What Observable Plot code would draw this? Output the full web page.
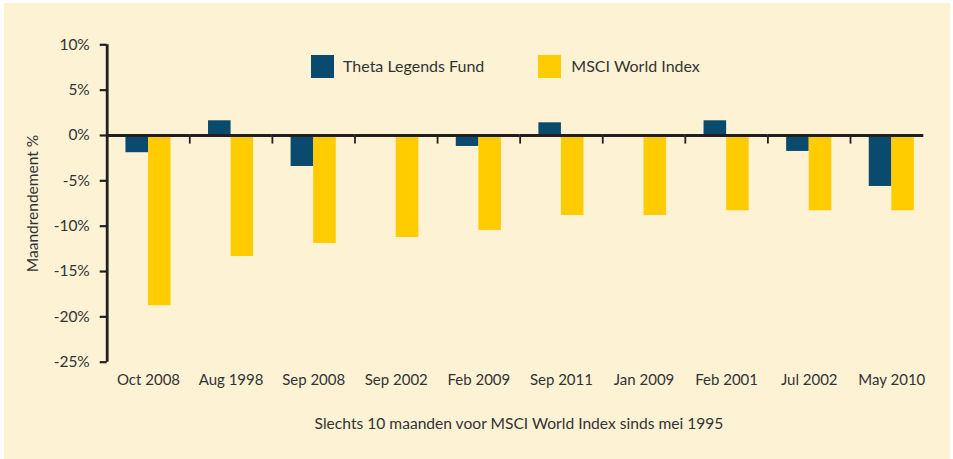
<!DOCTYPE html>
<html>
<head>
<meta charset="utf-8">
<script src="https://cdn.jsdelivr.net/npm/d3@7"></script>
<script src="https://cdn.jsdelivr.net/npm/@observablehq/plot@0.6"></script>
<style>
  html, body { margin: 0; padding: 0; background: #ffffff; }
  body { width: 953px; height: 459px; overflow: hidden; position: relative; font-family: Lato, "Open Sans", sans-serif; color: #333333; }
  #panel { position: absolute; left: 4px; top: 3px; width: 946px; height: 456px; background: #FEF2D4; }
  #chart { position: absolute; left: 0; top: 0; }
  .lg-sw { position: absolute; top: 52px; width: 23px; height: 23px; }
  .lg-tx { position: absolute; top: 52px; height: 23px; line-height: 23px; font-size: 16px; white-space: nowrap; margin-top: -1px; }
  #caption { position: absolute; top: 412px; left: 515px; transform: translateX(-50%); font-size: 15.6px; line-height: 16px; white-space: nowrap; }
</style>
</head>
<body>
<div id="panel">
  <div id="chart"></div>
  <div id="legend"></div>
  <div id="caption"></div>
</div>
<script>
// ---- data ----
const months = ["Oct 2008", "Aug 1998", "Sep 2008", "Sep 2002", "Feb 2009", "Sep 2011", "Jan 2009", "Feb 2001", "Jul 2002", "May 2010"];
const seriesNames = ["Theta Legends Fund", "MSCI World Index"];
const fundValues = [-1.9, 1.62, -3.42, 0, -1.21, 1.4, 0, 1.62, -1.76, -5.62];
const msciValues = [-18.78, -13.34, -11.9, -11.25, -10.47, -8.82, -8.82, -8.3, -8.3, -8.3];
const yTicks = [10, 5, 0, -5, -10, -15, -20, -25];
const seriesColors = ["#0B4A6F", "#FFCC00"];
const yLabel = "Maandrendement %";
const captionText = "Slechts 10 maanden voor MSCI World Index sinds mei 1995";

// ---- layout ----
const W = 946, H = 456;
const mL = 102.7, mR = 17.4, mT = 41.3, mB = 97.3;
const padOuter = 0.83;
const facetW = (W - mL - mR) / months.length;
const step = facetW / (seriesNames.length + 2 * padOuter);
const edgeDx = -(padOuter + 0.5) * step;       // from centre of first band to facet edge
const pxPerUnit = (H - mT - mB) / (d3.max(yTicks) - d3.min(yTicks));
const catTickLen = 8.6 / pxPerUnit;
const lastInset = 9.3;                          // zero line stops short of the last band edge
const ink = "#231f20";

const rows = months.flatMap((m, i) => [
  {month: m, series: seriesNames[0], value: fundValues[i]},
  {month: m, series: seriesNames[1], value: msciValues[i]}
]);

const plot = Plot.plot({
  width: W,
  height: H,
  marginLeft: mL,
  marginRight: mR,
  marginTop: mT,
  marginBottom: mB,
  style: {background: "transparent", fontFamily: "Lato, 'Open Sans', sans-serif", fontSize: "15px", color: "#333333", overflow: "visible"},
  fx: {domain: months, padding: 0, round: false, label: null},
  x: {domain: seriesNames, paddingInner: 0, paddingOuter: padOuter, round: false, axis: null},
  y: {domain: [d3.min(yTicks), d3.max(yTicks)], label: null},
  color: {domain: seriesNames, range: seriesColors},
  marks: [
    Plot.barY(rows, {fx: "month", x: "series", y: "value", fill: "series"}),
    Plot.ruleY(months.slice(0, -1), {fx: d => d, y: () => 0, stroke: ink, strokeWidth: 2.8}),
    Plot.ruleY(months.slice(-1), {fx: d => d, y: () => 0, insetRight: lastInset, stroke: ink, strokeWidth: 2.8}),
    Plot.ruleX(months.slice(1), {fx: d => d, x: () => seriesNames[0], dx: edgeDx, y1: 0, y2: -catTickLen, stroke: ink, strokeWidth: 1.8}),
    Plot.ruleX(months.slice(0, 1), {fx: d => d, x: () => seriesNames[0], dx: edgeDx, y1: d3.min(yTicks), y2: d3.max(yTicks), stroke: ink, strokeWidth: 2.8}),
    Plot.axisY({
      ticks: yTicks,
      tickFormat: d => d + "%",
      tickSize: 7,
      tickPadding: 10.4,
      stroke: ink,
      strokeWidth: 2.2,
      fill: "#333333",
      fontSize: 15.5,
      label: yLabel,
      labelAnchor: "center",
      labelArrow: "none",
      labelOffset: 80
    }),
    Plot.axisFx({anchor: "bottom", tickSize: 0, tickPadding: 11.8, label: null, fill: "#333333", fontSize: 15})
  ]
});
document.getElementById("chart").appendChild(plot);

// ---- legend ----
const legend = document.getElementById("legend");
const swatchLeft = [306.7, 534];
const textLeft = [339, 567.3];
seriesNames.forEach((name, i) => {
  const sw = document.createElement("div");
  sw.className = "lg-sw";
  sw.style.left = swatchLeft[i] + "px";
  sw.style.background = plot.scale("color").apply(name);
  legend.appendChild(sw);
  const tx = document.createElement("div");
  tx.className = "lg-tx";
  tx.style.left = textLeft[i] + "px";
  tx.textContent = name;
  legend.appendChild(tx);
});

document.getElementById("caption").textContent = captionText;
</script>
</body>
</html>
